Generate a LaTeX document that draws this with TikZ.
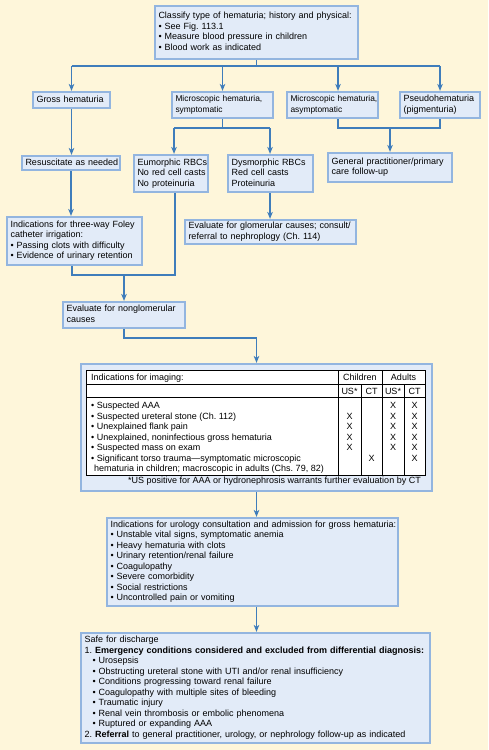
\documentclass[tikz,border=0pt]{standalone}
\usepackage{fontspec}
\setmainfont{Liberation Sans}
\usetikzlibrary{arrows.meta,shadows}
\frenchspacing
\definecolor{bg}{HTML}{FEF6DA}
\definecolor{boxfill}{HTML}{E2EBF8}
\definecolor{edge}{HTML}{93B5DF}
\definecolor{edgedark}{HTML}{6F95C6}
\definecolor{connc}{HTML}{3F7DBB}
\newcommand\mybox[7][]{%
  \pgfmathsetmacro\bw{#5-#3}\pgfmathsetmacro\bh{#6-#4}\pgfmathsetmacro\tw{#5-#3-7}%
  \node[box, #1, minimum width=\bw pt, minimum height=\bh pt, text width=\tw pt] (#2) at ({(#3+#5)/2},{(#4+#6)/2}) {\begin{tabular}{@{}l@{}}#7\end{tabular}};}
\begin{document}
\begin{tikzpicture}[x=1pt,y=-1pt,
  box/.style={fill=boxfill, draw=edge, line width=2.2pt, inner xsep=3.5pt, inner ysep=1pt, align=left,
    font=\fontsize{9}{10.5}\selectfont,
    drop shadow={shadow xshift=0.9pt, shadow yshift=-0.9pt, fill=edgedark, opacity=0.9}},
  small/.style={font=\fontsize{8.4}{10.5}\selectfont, inner xsep=2.5pt},
  conn/.style={draw=connc, line width=1.3pt},
  arr/.style={conn, -{Stealth[length=7pt,width=5.5pt,inset=2pt]}},
  txt/.style={font=\fontsize{9}{10.5}\selectfont, inner sep=0pt},
  tab/.style={draw=black, line width=0.7pt}]
\fill[bg] (0,0) rectangle (488,750);
\useasboundingbox (0,0) rectangle (488,750);

\mybox{top}{155}{6}{358}{59}{Classify type of hematuria; history and physical:\\ \textbullet\ See Fig. 113.1\\ \textbullet\ Measure blood pressure in children\\ \textbullet\ Blood work as indicated}
\mybox{gross}{33}{92}{110}{108}{Gross hematuria}
\mybox[small]{msym}{172}{92}{273}{118}{Microscopic hematuria,\\ symptomatic}
\mybox[small]{masym}{287}{92}{378}{118}{Microscopic hematuria,\\ asymptomatic}
\mybox{pseudo}{400}{92}{480}{118}{Pseudohematuria\\ (pigmenturia)}
\mybox{resus}{22}{156}{120}{170}{Resuscitate as needed}
\mybox{eumorph}{134}{155}{208}{192}{Eumorphic RBCs\\ No red cell casts\\ No proteinuria}
\mybox{dysmorph}{228}{155}{313}{192}{Dysmorphic RBCs\\ Red cell casts\\ Proteinuria}
\mybox{gp}{328}{153}{452}{182}{General practitioner/primary\\ care follow-up}
\mybox{foley}{7}{217}{142}{265}{Indications for three-way Foley\\ catheter irrigation:\\ \textbullet\ Passing clots with difficulty\\ \textbullet\ Evidence of urinary retention}
\mybox{glom}{185}{220}{356}{244}{Evaluate for glomerular causes; consult/\\ referral to nephroplogy (Ch. 114)}
\mybox{nonglom}{63}{302}{185}{328}{Evaluate for nonglomerular\\ causes}
\mybox{imaging}{81}{364}{432}{491}{}
\mybox{urology}{107}{518}{398}{606}{Indications for urology consultation and admission for gross hematuria:\\ \textbullet\ Unstable vital signs, symptomatic anemia\\ \textbullet\ Heavy hematuria with clots\\ \textbullet\ Urinary retention/renal failure\\ \textbullet\ Coagulopathy\\ \textbullet\ Severe comorbidity\\ \textbullet\ Social restrictions\\ \textbullet\ Uncontrolled pain or vomiting}
\mybox{discharge}{81}{633}{430}{743}{Safe for discharge\\ 1.\ \textbf{Emergency conditions considered and excluded from differential diagnosis:}\\ \hspace*{8pt}\textbullet\ Urosepsis\\ \hspace*{8pt}\textbullet\ Obstructing ureteral stone with UTI and/or renal insufficiency\\ \hspace*{8pt}\textbullet\ Conditions progressing toward renal failure\\ \hspace*{8pt}\textbullet\ Coagulopathy with multiple sites of bleeding\\ \hspace*{8pt}\textbullet\ Traumatic injury\\ \hspace*{8pt}\textbullet\ Renal vein thrombosis or embolic phenomena\\ \hspace*{8pt}\textbullet\ Ruptured or expanding AAA\\ 2.\ \textbf{Referral} to general practitioner, urology, or nephrology follow-up as indicated}

% table
\fill[white] (86,370) rectangle (425,475);
\draw[tab] (86,370) rectangle (425,475);
\draw[tab] (86,384) -- (425,384);
\draw[tab] (86,397) -- (425,397);
\draw[tab] (338,370) -- (338,475);
\draw[tab] (382,370) -- (382,475);
\draw[tab] (361,384) -- (361,475);
\draw[tab] (404,384) -- (404,475);
\node[txt, anchor=base west] (th) at (91,380.5) {Indications for imaging:};
\node[txt, anchor=base] (thc) at (360,380.5) {Children};
\node[txt, anchor=base] (tha) at (403.5,380.5) {Adults};
\node[txt, anchor=base] (hu1) at (349.5,394) {US*};
\node[txt, anchor=base] (hc1) at (371.5,394) {CT};
\node[txt, anchor=base] (hu2) at (393,394) {US*};
\node[txt, anchor=base] (hc2) at (414.5,394) {CT};
\node[txt, anchor=base west] (r1) at (91,408.5) {\textbullet\ Suspected AAA};
\node[txt, anchor=base west] (r2) at (91,419) {\textbullet\ Suspected ureteral stone (Ch. 112)};
\node[txt, anchor=base west] (r3) at (91,429.5) {\textbullet\ Unexplained flank pain};
\node[txt, anchor=base west] (r4) at (91,440) {\textbullet\ Unexplained, noninfectious gross hematuria};
\node[txt, anchor=base west] (r5) at (91,450.5) {\textbullet\ Suspected mass on exam};
\node[txt, anchor=base west] (r6) at (91,461) {\textbullet\ Significant torso trauma—symptomatic microscopic};
\node[txt, anchor=base west] (r7) at (94,471.5) {hematuria in children; macroscopic in adults (Chs. 79, 82)};
\foreach \k in {2,...,5} \node[txt, anchor=base] (cu\k) at (349.5,{408.5+10.5*(\k-1)}) {X};
\node[txt, anchor=base] (cc6) at (371.5,461) {X};
\foreach \k in {1,...,5} \node[txt, anchor=base] (au\k) at (393,{408.5+10.5*(\k-1)}) {X};
\foreach \k in {1,...,6} \node[txt, anchor=base] (ac\k) at (414.5,{408.5+10.5*(\k-1)}) {X};
\node[txt, anchor=base east] (fn) at (421,483.5) {*US positive for AAA or hydronephrosis warrants further evaluation by CT};

% connectors
\coordinate (h1L) at (71.5,66);
\coordinate (h1R) at (440,66);
\coordinate (a3) at (338,66);
\draw[conn] (top.south) -- (top.south |- h1L);
\draw[conn] (h1L) -- (h1R);
\draw[arr] (h1L) -- (gross.north);
\draw[arr] (msym.north |- h1L) -- (msym.north);
\draw[arr] (a3) -- (a3 |- masym.north);
\draw[arr] (h1R) -- (pseudo.north);

\draw[arr] (gross.south) -- (gross.south |- resus.north);
\draw[arr] (resus.south) -- (resus.south |- foley.north);

\coordinate (h2L) at (174,128);
\coordinate (h2R) at (270,128);
\draw[conn] (msym.south) -- (msym.south |- h2L);
\draw[conn] (h2L) -- (h2R);
\draw[arr] (h2L) -- (h2L |- eumorph.north);
\draw[arr] (h2R) -- (h2R |- dysmorph.north);

\coordinate (h3L) at (338,128);
\coordinate (h3R) at (440,128);
\draw[conn] (h3L |- masym.south) -- (h3L) -- (h3R) -- (pseudo.south);
\draw[arr] (gp.north |- h3L) -- (gp.north);

\draw[arr] (dysmorph.south -| h2R) -- (h2R |- glom.north);

\coordinate (h4L) at (72,275);
\coordinate (h4R) at (175,275);
\draw[conn] (h4L |- foley.south) -- (h4L) -- (h4R) -- (h4R |- eumorph.south);
\draw[arr] (nonglom.north |- h4L) -- (nonglom.north);

\coordinate (h5) at (256.5,338);
\draw[arr] (nonglom.south) |- (h5) -- (imaging.north);
\draw[arr] (imaging.south) -- (imaging.south |- urology.north);
\draw[arr] (urology.south -| imaging.south) -- (imaging.south |- discharge.north);
\end{tikzpicture}
\end{document}
